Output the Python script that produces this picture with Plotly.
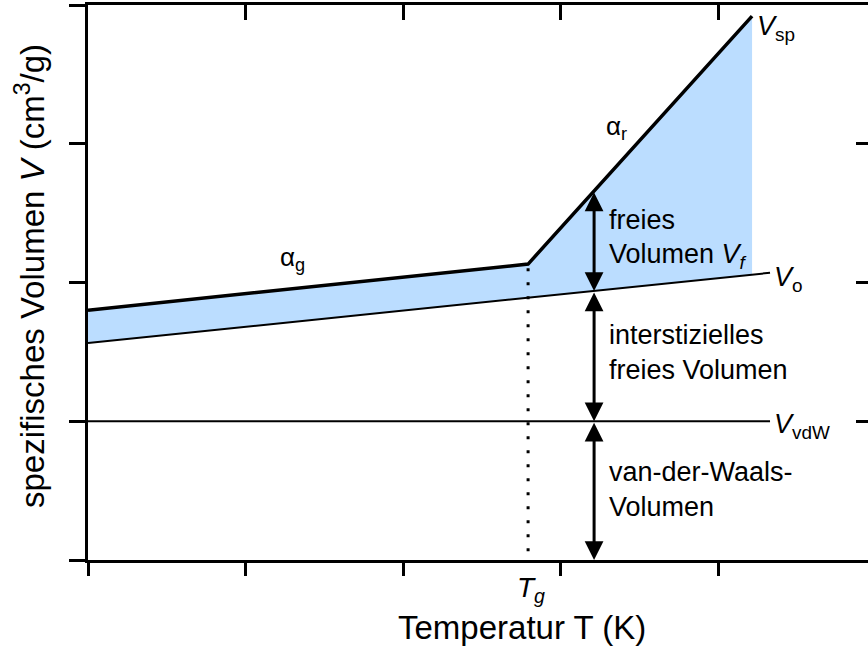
import numpy as np
import plotly.graph_objects as go

# ---- data ----
T_glass = [0.0, 2.794]          # glassy branch (alpha_g)
V_glass = [1.80, 2.133]
T_rubber = [2.794, 4.216]       # rubbery branch (alpha_r)
V_rubber = [2.133, 3.92]
T_occupied = [0.0, 4.33]        # occupied volume V_o
V_occupied = [1.564, 2.07]
T_vdw = [0.0, 4.33]             # van-der-Waals volume
V_vdw = [1.0, 1.0]
T_g = 2.794
T_arrow = 3.213
x_ticks = [0, 1, 2, 3, 4]
y_ticks = [0, 1, 2, 3, 4]
y_ticks_right = [1, 2, 3]

X_MAX = 4.952
Y_MAX = 4.0

# pixel helpers for annotation placement (plot area: x 88..868, y 5..560)
def PX(px):
    return (px - 88) / 780.0

def PY(py):
    return (560 - py) / 555.0

FONT = "Liberation Sans, Arial, Helvetica, sans-serif"
BLUE = "rgb(187,221,255)"

# fill polygon between upper curve and occupied volume
v_occ_end = float(np.interp(T_rubber[-1], T_occupied, V_occupied))
fill_x = T_glass + T_rubber[1:] + [T_rubber[-1], T_occupied[0]]
fill_y = V_glass + V_rubber[1:] + [v_occ_end, V_occupied[0]]

fig = go.Figure()
fig.add_trace(go.Scatter(x=fill_x, y=fill_y, fill="toself", fillcolor=BLUE,
                         mode="none", hoverinfo="skip"))
fig.add_trace(go.Scatter(x=T_occupied, y=V_occupied, mode="lines",
                         line=dict(color="black", width=2), hoverinfo="skip"))
fig.add_trace(go.Scatter(x=T_vdw, y=V_vdw, mode="lines",
                         line=dict(color="black", width=2), hoverinfo="skip"))
fig.add_trace(go.Scatter(x=T_glass + T_rubber[1:], y=V_glass + V_rubber[1:], mode="lines",
                         line=dict(color="black", width=3.5), hoverinfo="skip"))
fig.add_trace(go.Scatter(x=[T_g, T_g], y=[V_glass[-1] - 0.03, 0], mode="lines",
                         line=dict(color="black", width=3, dash="3px,11px"),
                         hoverinfo="skip", xaxis="x2", yaxis="y2"))

# arrows
v_top = float(np.interp(T_arrow, T_rubber, V_rubber))
v_mid = float(np.interp(T_arrow, T_occupied, V_occupied))
segments = [(v_top, v_mid), (v_mid, V_vdw[0]), (V_vdw[0], 0.0)]
annotations = []
for a, b in segments:
    annotations.append(dict(x=T_arrow, y=b, ax=T_arrow, ay=a, xref="x", yref="y",
                            axref="x", ayref="y", text="", showarrow=True,
                            arrowhead=2, startarrowhead=2, arrowside="end+start",
                            arrowsize=1.25, startarrowsize=1.25, arrowwidth=3,
                            arrowcolor="black", standoff=0, startstandoff=0))

def label(text, px, py, size=27, xanchor="center", yanchor="middle", angle=0):
    annotations.append(dict(text=text, x=PX(px), y=PY(py), xref="paper", yref="paper",
                            showarrow=False, xanchor=xanchor, yanchor=yanchor,
                            textangle=angle, font=dict(size=size, family=FONT, color="black")))

label("α<sub>g</sub>", 292, 258, size=26)
label("α<sub>r</sub>", 616, 128, size=26)
label("<i>V</i><sub>sp</sub>", 755, 28, xanchor="left")
label("<i>V</i><sub>o</sub>", 772, 279, xanchor="left")
label("<i>V</i><sub>vdW</sub>", 772, 426, xanchor="left")
label("<i>T<sub>g</sub></i>", 531, 589, size=28)
label("freies", 607, 220, xanchor="left")
label("Volumen <i>V<sub>f</sub></i>", 607, 256, xanchor="left")
label("interstizielles", 607, 335, xanchor="left")
label("freies Volumen", 607, 370, xanchor="left")
label("van-der-Waals-", 607, 472, xanchor="left")
label("Volumen", 607, 507, xanchor="left")
label("Temperatur T (K)", 522, 627, size=33)
label("spezifisches Volumen <i>V</i> (cm<sup>3</sup>/g)", 30, 276, size=33, angle=-90)

axis_common = dict(showgrid=False, zeroline=False, showticklabels=False,
                   tickcolor="black", tickwidth=3, linecolor="black", linewidth=3,
                   fixedrange=True, automargin=False)

fig.update_layout(
    width=868, height=647,
    margin=dict(l=88, r=0, t=5, b=87, autoexpand=False),
    plot_bgcolor="white", paper_bgcolor="white",
    showlegend=False,
    font=dict(family=FONT, color="black"),
    xaxis=dict(range=[0, X_MAX], tickvals=x_ticks, ticks="outside", ticklen=13,
               showline=True, **axis_common),
    xaxis2=dict(range=[0, X_MAX], tickvals=x_ticks, ticks="inside", ticklen=15,
                showline=True, overlaying="x", side="top", anchor="y", **axis_common),
    yaxis=dict(range=[0, Y_MAX], tickvals=y_ticks, ticks="outside", ticklen=16,
               showline=True, **axis_common),
    yaxis2=dict(range=[0, Y_MAX], tickvals=y_ticks_right, ticks="inside", ticklen=12,
                showline=False, overlaying="y", side="right", anchor="x", **axis_common),
    annotations=annotations,
)

fig.write_html("out.html", config={"displayModeBar": False},
               post_script="document.body.style.margin='0';document.body.style.overflow='hidden';")
